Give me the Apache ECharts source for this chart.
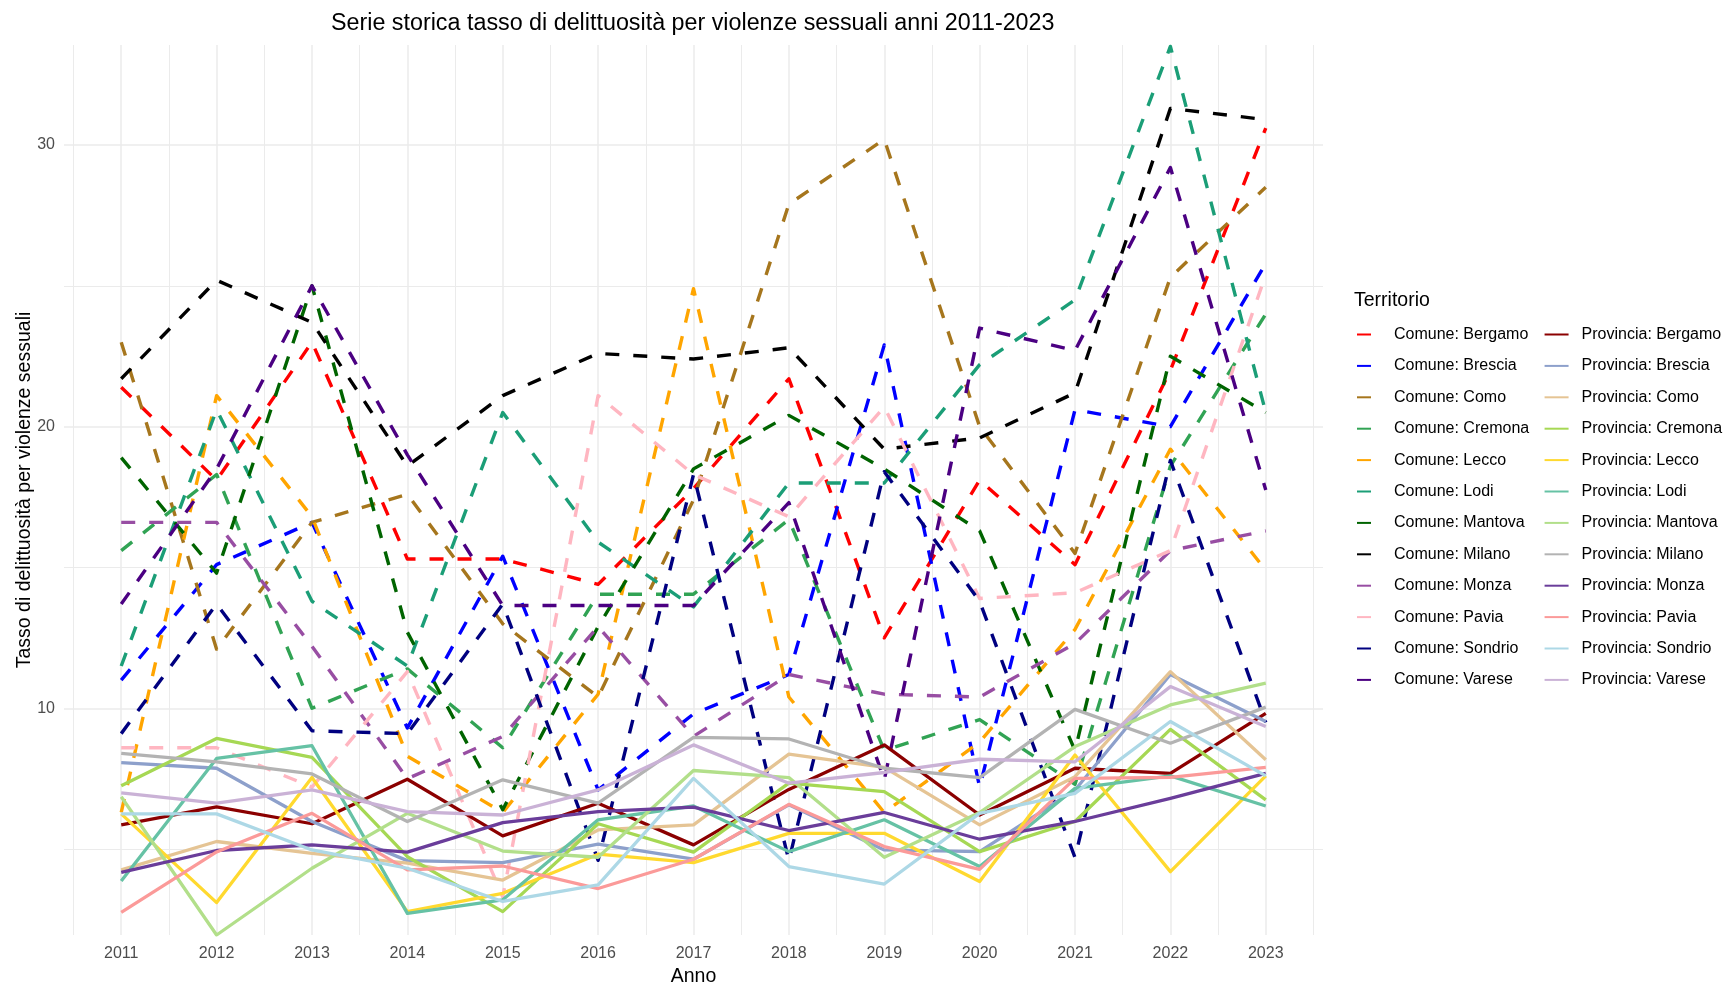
<!DOCTYPE html>
<html>
<head>
<meta charset="utf-8">
<script src="https://cdn.jsdelivr.net/npm/echarts@6/dist/echarts.min.js"></script>
<style>
  html, body { margin: 0; padding: 0; background: #fff; }
  #chart { width: 1729px; height: 986px; }
</style>
</head>
<body>
<div id="chart"></div>
<script>
  // anni
  const years = [2011, 2012, 2013, 2014, 2015, 2016, 2017, 2018, 2019, 2020, 2021, 2022, 2023]
  const cities = ['Bergamo', 'Brescia', 'Como', 'Cremona', 'Lecco', 'Lodi', 'Mantova', 'Milano', 'Monza', 'Pavia', 'Sondrio', 'Varese']

  // tick e griglia
  const xLabels = years
  const xMinor = [2010.5, 2011.5, 2012.5, 2013.5, 2014.5, 2015.5, 2016.5, 2017.5, 2018.5, 2019.5, 2020.5, 2021.5, 2022.5, 2023.5]
  const yLabels = [10, 20, 30]
  const yMinor = [5, 15, 25]

  // Comune (tratteggiate)
  const comuneBergamo = [21.4, 18.1, 23.0, 15.3, 15.3, 14.4, 17.8, 21.7, 12.5, 18.1, 15.1, 22.0, 30.6]
  const comuneBrescia = [11.0, 15.1, 16.6, 9.3, 15.4, 7.1, 9.8, 11.2, 22.9, 7.2, 20.6, 20.0, 25.8]
  const comuneComo = [23.0, 12.1, 16.6, 17.6, 13.0, 10.4, 17.4, 27.9, 30.2, 20.0, 15.5, 25.3, 28.5]
  const comuneCremona = [15.6, 18.3, 10.0, 11.4, 8.6, 14.05, 14.05, 16.7, 8.5, 9.6, 7.3, 18.6, 24.0]
  const comuneLecco = [6.3, 21.1, 16.8, 8.3, 6.3, 10.5, 24.9, 10.4, 6.3, 8.8, 12.8, 19.2, 14.9]
  const comuneLodi = [11.5, 20.6, 13.8, 11.5, 20.5, 15.9, 13.6, 18.0, 18.0, 22.2, 24.5, 33.5, 20.5]
  const comuneMantova = [18.9, 14.8, 25.0, 12.7, 6.4, 12.9, 18.5, 20.4, 18.5, 16.3, 8.5, 22.5, 20.5]
  const comuneMilano = [21.7, 25.2, 23.7, 18.6, 21.1, 22.6, 22.4, 22.8, 19.2, 19.6, 21.2, 31.3, 30.9]
  const comuneMonza = [16.6, 16.6, 12.2, 7.5, 9.0, 12.9, 9.0, 11.2, 10.5, 10.4, 12.3, 15.6, 16.3]
  const comunePavia = [8.6, 8.6, 7.2, 11.3, 3.3, 21.1, 18.3, 16.8, 20.7, 13.9, 14.1, 15.6, 25.4]
  const comuneSondrio = [9.1, 13.7, 9.2, 9.1, 13.7, 4.6, 18.3, 4.6, 18.4, 13.8, 4.7, 18.8, 9.5]
  const comuneVarese = [13.7, 18.5, 25.0, 19.0, 13.65, 13.65, 13.65, 17.3, 7.45, 23.5, 22.7, 29.2, 17.75]

  // Provincia (continue)
  const provinciaBergamo = [5.86, 6.5, 5.9, 7.48, 5.47, 6.63, 5.15, 7.12, 8.7, 6.21, 7.87, 7.69, 9.82]
  const provinciaBrescia = [8.07, 7.87, 5.98, 4.59, 4.52, 5.18, 4.64, 6.57, 4.97, 4.91, 7.1, 11.2, 9.53]
  const provinciaComo = [4.26, 5.27, 4.85, 4.5, 3.9, 5.68, 5.86, 8.37, 7.9, 5.86, 7.57, 11.3, 8.17]
  const provinciaCremona = [7.25, 8.93, 8.26, 4.73, 2.78, 5.9, 4.89, 7.34, 7.04, 4.91, 5.98, 9.25, 6.75]
  const provinciaLecco = [6.25, 3.1, 7.54, 2.78, 3.43, 4.82, 4.52, 5.56, 5.56, 3.85, 8.34, 4.2, 7.6]
  const provinciaLodi = [3.87, 8.22, 8.67, 2.72, 3.2, 6.04, 6.53, 4.91, 6.04, 4.38, 7.16, 7.6, 6.53]
  const provinciaMantova = [6.86, 1.95, 4.32, 6.27, 4.93, 4.71, 7.79, 7.54, 4.71, 6.3, 8.64, 10.12, 10.89]
  const provinciaMilano = [8.4, 8.1, 7.67, 5.98, 7.46, 6.63, 8.97, 8.91, 7.87, 7.54, 9.96, 8.76, 10.04]
  const provinciaMonza = [4.17, 4.95, 5.15, 4.89, 5.94, 6.33, 6.49, 5.66, 6.3, 5.35, 5.98, 6.8, 7.69]
  const provinciaPavia = [2.75, 4.9, 6.27, 4.26, 4.4, 3.6, 4.64, 6.59, 5.09, 4.28, 7.51, 7.55, 7.9]
  const provinciaSondrio = [6.25, 6.25, 4.97, 4.32, 3.14, 3.73, 7.51, 4.38, 3.76, 6.27, 6.98, 9.53, 7.6]
  const provinciaVarese = [7.0, 6.63, 7.1, 6.33, 6.21, 7.1, 8.7, 7.34, 7.72, 8.19, 8.1, 10.77, 9.35]

  const comuneColors = ['#FF0000', '#0000FF', '#A6761D', '#31A354', '#FFA500', '#1B9E77', '#006400', '#000000', '#984EA3', '#FFB6C1', '#000080', '#4B0082']
  const provinciaColors = ['#8B0000', '#8DA0CB', '#E5C494', '#A6D854', '#FFD92F', '#66C2A5', '#B2DF8A', '#B3B3B3', '#6A3D9A', '#FB9A99', '#ADD8E6', '#CAB2D6']

  const comuneData = [comuneBergamo, comuneBrescia, comuneComo, comuneCremona, comuneLecco, comuneLodi, comuneMantova, comuneMilano, comuneMonza, comunePavia, comuneSondrio, comuneVarese]
  const provinciaData = [provinciaBergamo, provinciaBrescia, provinciaComo, provinciaCremona, provinciaLecco, provinciaLodi, provinciaMantova, provinciaMilano, provinciaMonza, provinciaPavia, provinciaSondrio, provinciaVarese]

  const font = 'Liberation Sans, Arial, sans-serif'
  const gridColor = '#ebebeb'

  let chart = echarts.init(document.getElementById('chart'))

  let series = []
  let names = []
  cities.forEach((c, i) => {
    names.push('Comune: ' + c)
    series.push({
      name: 'Comune: ' + c,
      type: 'line',
      symbol: 'none',
      data: years.map((y, k) => [y, comuneData[i][k]]),
      itemStyle: { color: comuneColors[i] },
      lineStyle: { color: comuneColors[i], width: 3.4, type: [14, 14], cap: 'butt', join: 'round' }
    })
  })
  cities.forEach((c, i) => {
    names.push('Provincia: ' + c)
    series.push({
      name: 'Provincia: ' + c,
      type: 'line',
      symbol: 'none',
      data: years.map((y, k) => [y, provinciaData[i][k]]),
      itemStyle: { color: provinciaColors[i] },
      lineStyle: { color: provinciaColors[i], width: 3.3, type: 'solid', join: 'round' }
    })
  })

  // griglia disegnata come markLine sul primo series, sotto le linee
  let gridLines = []
  xLabels.forEach(v => gridLines.push({ xAxis: v, lineStyle: { width: 1.5 } }))
  xMinor.forEach(v => gridLines.push({ xAxis: v, lineStyle: { width: 1 } }))
  yLabels.forEach(v => gridLines.push({ yAxis: v, lineStyle: { width: 1.5 } }))
  yMinor.forEach(v => gridLines.push({ yAxis: v, lineStyle: { width: 1 } }))
  series[0].markLine = {
    z: 1,
    silent: true,
    animation: false,
    symbol: ['none', 'none'],
    label: { show: false },
    emphasis: { disabled: true },
    lineStyle: { color: gridColor, type: 'solid', width: 1 },
    data: gridLines
  }

  let option = {
    animation: false,
    backgroundColor: '#fff',
    textStyle: { fontFamily: font },
    title: [
      {
        text: 'Serie storica tasso di delittuosità per violenze sessuali anni 2011-2023',
        left: 331,
        top: 12,
        padding: 0,
        textStyle: { fontSize: 23.3, fontWeight: 'normal', color: '#000', fontFamily: font }
      },
      {
        text: 'Territorio',
        left: 1354,
        top: 291,
        padding: 0,
        textStyle: { fontSize: 19.5, fontWeight: 'normal', color: '#000', fontFamily: font }
      }
    ],
    legend: {
      orient: 'vertical',
      left: 1356,
      top: 326,
      height: 370,
      padding: 0,
      itemWidth: 24,
      itemHeight: 14,
      itemGap: 14.4,
      data: names,
      itemStyle: { opacity: 0 },
      textStyle: { fontSize: 16, color: '#000', lineHeight: 17, padding: [0, 0, 0, 8], fontFamily: font }
    },
    grid: { left: 64, right: 406, top: 45, bottom: 51, containLabel: false, outerBoundsMode: 'none' },
    xAxis: {
      type: 'value',
      min: 2010.4,
      max: 2023.6,
      name: 'Anno',
      nameLocation: 'middle',
      nameGap: 32,
      nameMoveOverlap: false,
      nameTextStyle: { fontSize: 19.5, color: '#000', fontFamily: font },
      axisLine: { show: false },
      axisTick: { show: false },
      splitLine: { show: false },
      axisLabel: {
        customValues: xLabels,
        formatter: v => String(v),
        fontSize: 16,
        color: '#4d4d4d',
        margin: 10.5,
        fontFamily: font
      }
    },
    yAxis: {
      type: 'value',
      min: 1.95,
      max: 33.55,
      name: 'Tasso di delittuosità per violenze sessuali',
      nameLocation: 'middle',
      nameGap: 29,
      nameMoveOverlap: false,
      nameTextStyle: { fontSize: 19.5, color: '#000', fontFamily: font },
      axisLine: { show: false },
      axisTick: { show: false },
      splitLine: { show: false },
      axisLabel: {
        customValues: yLabels,
        formatter: v => String(v),
        fontSize: 16,
        color: '#4d4d4d',
        margin: 9,
        fontFamily: font
      }
    },
    series: series
  }

  chart.setOption(option)
</script>
</body>
</html>
